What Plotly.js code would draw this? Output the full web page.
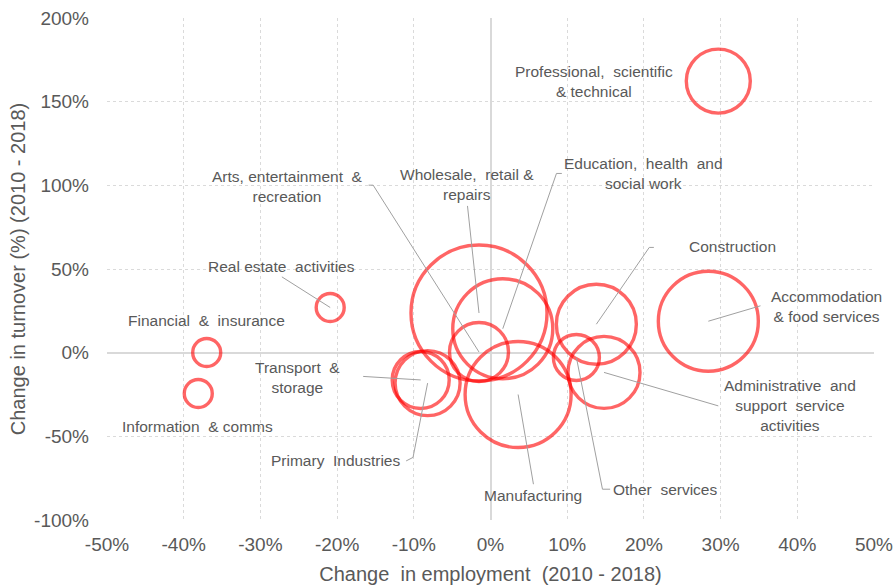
<!DOCTYPE html>
<html>
<head>
<meta charset="utf-8">
<script src="https://cdn.plot.ly/plotly-3.0.1.min.js"></script>
<style>
  html, body { margin: 0; padding: 0; background: #ffffff; }
  #chart { width: 894px; height: 586px; }
</style>
</head>
<body>
<div id="chart"></div>
<script>
// ---- Data ----
const sectors = [
  "Professional, scientific & technical",
  "Accommodation & food services",
  "Construction",
  "Wholesale, retail & repairs",
  "Education, health and social work",
  "Arts, entertainment & recreation",
  "Manufacturing",
  "Other services",
  "Administrative and support service activities",
  "Transport & storage",
  "Primary Industries",
  "Real estate activities",
  "Financial & insurance",
  "Information & comms"
];
// Change in employment 2010-2018 (%)
const employmentChange = [29.7, 28.4, 13.8, -1.5, 1.6, -1.5, 3.6, 11.2, 14.8, -9.1, -8.2, -20.9, -37.0, -38.1];
// Change in turnover 2010-2018 (%)
const turnoverChange = [162.3, 18.8, 17.0, 23.7, 14.3, 0.4, -25.0, -2.9, -11.8, -16.3, -18.2, 27.0, 0.1, -24.4];
// Relative bubble size (bubble diameter scale)
const bubbleSize = [64, 100, 80, 136, 100, 59, 106, 46, 72, 57, 65, 28, 28, 28];

// Axis tick values
const xTicks = [-50, -40, -30, -20, -10, 0, 10, 20, 30, 40, 50];
const yTicks = [-100, -50, 0, 50, 100, 150, 200];

// ---- Label placement (layout, not data) ----
// text, label centre (in axis units), leader-line waypoints before reaching the bubble
const labelLayout = [
  { i: 0,  text: "Professional,  scientific<br>& technical", x: 13.5, y: 162.3, path: null },
  { i: 1,  text: "Accommodation<br>& food services", x: 43.8, y: 27.8, path: [[35.2, 28.0]] },
  { i: 2,  text: "Construction", x: 31.6, y: 63.2, path: [[21.3, 62.9], [20.7, 62.9]] },
  { i: 3,  text: "Wholesale,  retail &<br>repairs", x: -3.1, y: 100.4, path: [[-3.0, 87.7]] },
  { i: 4,  text: "Education,  health  and<br>social work", x: 20.0, y: 107.0, path: [[9.3, 107.1], [8.6, 107.1]] },
  { i: 5,  text: "Arts, entertainment  &<br>recreation", x: -26.5, y: 99.5, path: [[-15.9, 100.1], [-15.3, 100.1]] },
  { i: 6,  text: "Manufacturing", x: 5.5, y: -85.6, path: [[5.6, -78.6]] },
  { i: 7,  text: "Other  services", x: 22.8, y: -81.6, path: [[15.6, -81.6], [14.6, -81.6]] },
  { i: 8,  text: "Administrative  and<br>support  service<br>activities", x: 39.1, y: -31.8, path: [[29.7, -31.8]] },
  { i: 9,  text: "Transport  &<br>storage", x: -25.2, y: -14.6, path: [[-16.6, -14.2]] },
  { i: 10, text: "Primary  Industries", x: -20.2, y: -64.7, path: [[-11.0, -64.7], [-10.1, -62.6]] },
  { i: 11, text: "Real estate  activities", x: -27.3, y: 51.5, path: [[-27.2, 45.3]] },
  { i: 12, text: "Financial  &  insurance", x: -37.0, y: 19.0, path: null },
  { i: 13, text: "Information  & comms", x: -38.2, y: -44.1, path: null }
];

const FONT = '"Liberation Sans", Arial, sans-serif';
const GREY = '#595959';

const trace = {
  type: 'scatter',
  mode: 'markers',
  x: employmentChange,
  y: turnoverChange,
  text: sectors,
  hoverinfo: 'text',
  cliponaxis: false,
  marker: {
    size: bubbleSize,
    sizemode: 'diameter',
    sizeref: 1,
    color: 'rgba(0,0,0,0)',
    line: { color: 'rgba(255,0,0,0.86)', width: 3.4 }
  }
};

const annotations = labelLayout.map(l => ({
  x: l.x, y: l.y, xref: 'x', yref: 'y',
  text: l.text, showarrow: false,
  xanchor: 'center', yanchor: 'middle', align: 'center',
  font: { family: FONT, size: 15.5, color: GREY }
}));

const shapes = labelLayout.filter(l => l.path).map(l => {
  const pts = l.path.concat([[employmentChange[l.i], turnoverChange[l.i]]]);
  const d = pts.map((p, k) => (k === 0 ? 'M' : 'L') + p[0] + ',' + p[1]).join(' ');
  return {
    type: 'path', xref: 'x', yref: 'y', path: d,
    line: { color: '#A0A0A0', width: 1 }, layer: 'above'
  };
});

const layout = {
  width: 894,
  height: 586,
  margin: { l: 107, r: 20, t: 18, b: 66 },
  paper_bgcolor: '#ffffff',
  plot_bgcolor: '#ffffff',
  showlegend: false,
  font: { family: FONT, color: GREY },
  xaxis: {
    range: [-50, 50],
    tickvals: xTicks,
    ticktext: xTicks.map(v => v + '%'),
    showgrid: true,
    gridcolor: '#DADADA',
    griddash: '3px,3px',
    gridwidth: 1,
    zeroline: true,
    zerolinecolor: '#D9D9D9',
    zerolinewidth: 2,
    showline: false,
    ticks: '',
    ticklabelstandoff: 11,
    tickfont: { family: FONT, size: 19, color: GREY },
    title: { text: 'Change  in employment  (2010 - 2018)', font: { family: FONT, size: 20, color: GREY }, standoff: 12 },
    automargin: false,
    fixedrange: true
  },
  yaxis: {
    range: [-100, 200],
    tickvals: yTicks,
    ticktext: yTicks.map(v => v + '%'),
    showgrid: true,
    gridcolor: '#DADADA',
    griddash: '3px,3px',
    gridwidth: 1,
    zeroline: true,
    zerolinecolor: '#D9D9D9',
    zerolinewidth: 2,
    showline: false,
    ticks: '',
    ticklabelstandoff: 17,
    tickfont: { family: FONT, size: 19, color: GREY },
    title: { text: 'Change in turnover (%) (2010 - 2018)', font: { family: FONT, size: 20, color: GREY }, standoff: 3 },
    automargin: false,
    fixedrange: true
  },
  annotations: annotations,
  shapes: shapes
};

Plotly.newPlot('chart', [trace], layout, { displayModeBar: false, staticPlot: true });
</script>
</body>
</html>
